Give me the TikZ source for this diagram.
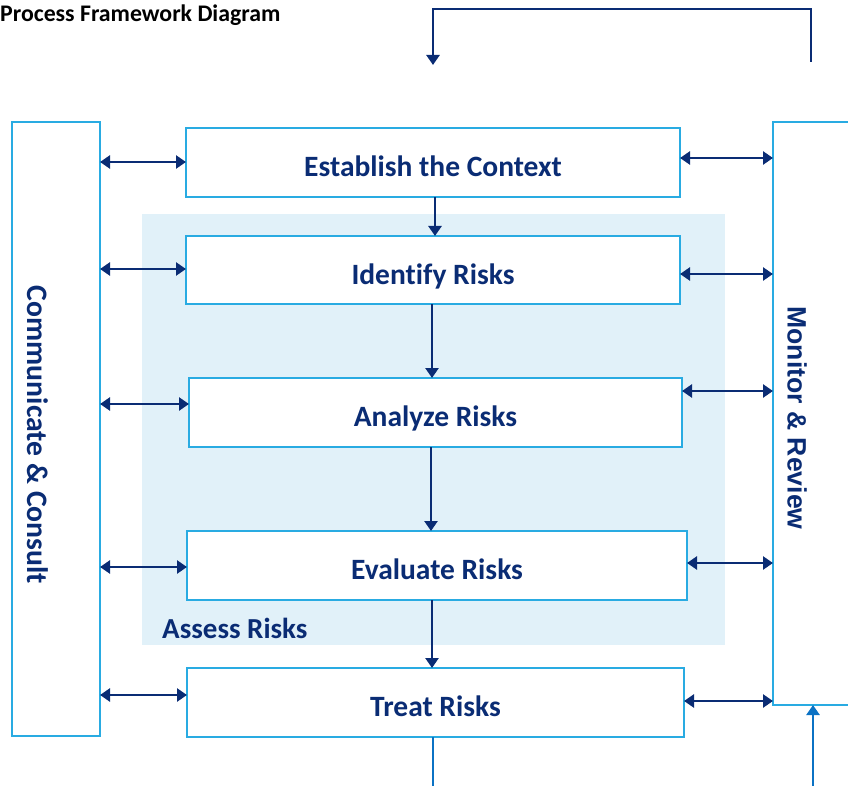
\documentclass[tikz,border=0pt]{standalone}
\usepackage{fontspec}
\setmainfont{Carlito}[Ligatures=NoCommon]
\newfontfamily\arialfont{Liberation Sans}
\usetikzlibrary{arrows.meta}
\definecolor{navy}{HTML}{0A2C74}
\definecolor{bord}{HTML}{29ABE2}
\definecolor{shade}{HTML}{E1F1F9}
\definecolor{midblue}{HTML}{0B72C4}
\tikzset{
  stepbox/.style={draw=bord, line width=1.9pt, fill=white, inner sep=0pt, outer sep=0pt,
    font=\fontsize{29.5}{32}\selectfont\bfseries, text=navy, text height=28pt, text depth=0pt},
  sidebox/.style={draw=bord, line width=1.9pt, fill=white, inner sep=0pt, outer sep=0pt},
  dbl/.style={draw=navy, line width=2.5pt, {Triangle[length=10pt,width=13pt]}-{Triangle[length=10pt,width=13pt]}},
  down/.style={draw=navy, line width=2.5pt, -{Triangle[length=10pt,width=13pt]}},
  feed/.style={draw=midblue, line width=2.5pt},
}
\begin{document}
\begin{tikzpicture}[x=1pt,y=-1pt]
\useasboundingbox (0,0) rectangle (848,786);
% shaded assess region
\node[fill=shade, minimum width=583pt, minimum height=431pt, inner sep=0pt, outer sep=0pt] (assess) at (433.5,429.5) {};
\node[anchor=west, font=\fontsize{29}{32}\selectfont\bfseries, text=navy, inner sep=0pt] (assesslbl) at (162,628) {Assess Risks};
% title
\node[anchor=west, font=\fontsize{23.8}{25}\selectfont\bfseries, inner sep=0pt] (title) at (0,15) {Process Framework Diagram};
% side boxes
\node[sidebox, minimum width=88pt, minimum height=614pt] (comm) at (56,429) {};
\node[rotate=-90, font=\fontsize{29.7}{32}\selectfont\bfseries, text=navy, inner sep=0pt] (commlbl) at (38,435) {Communicate \& Consult};
\begin{scope}
\clip (0,0) rectangle (848,786);
\node[sidebox, minimum width=85pt, minimum height=583pt] (mr) at (815.5,413.5) {};
\end{scope}
\node[rotate=-90, font=\arialfont\bfseries\fontsize{26.6}{29}\selectfont, text=navy, inner sep=0pt] (mrlbl) at (797,418) {Monitor \& Review};
% step boxes
\node[stepbox, minimum width=494pt, minimum height=69pt] (est) at (433,162.5) {Establish the Context};
\node[stepbox, minimum width=494pt, minimum height=68pt] (ide) at (433,270) {Identify Risks};
\node[stepbox, minimum width=493pt, minimum height=69pt] (ana) at (435.5,412.5) {Analyze Risks};
\node[stepbox, minimum width=500pt, minimum height=69pt] (eva) at (437,565.5) {Evaluate Risks};
\node[stepbox, minimum width=497pt, minimum height=69pt] (tre) at (435.5,702.5) {Treat Risks};
% vertical arrows
\draw[down] ([xshift=2pt]est.south) -- ([xshift=2pt]est.south |- ide.north);
\draw[down] ([xshift=-1pt]ide.south) -- ([xshift=-1pt]ide.south |- ana.north);
\draw[down] ([xshift=-4.5pt]ana.south) -- ([xshift=-4.5pt]ana.south |- eva.north);
\draw[down] ([xshift=-5pt]eva.south) -- ([xshift=-5pt]eva.south |- tre.north);
% left double arrows
\draw[dbl] (comm.east |- 0,162) -- (est.west |- 0,162);
\draw[dbl] (comm.east |- 0,269) -- (ide.west |- 0,269);
\draw[dbl] (comm.east |- 0,404) -- (ana.west |- 0,404);
\draw[dbl] (comm.east |- 0,567) -- (eva.west |- 0,567);
\draw[dbl] (comm.east |- 0,695) -- (tre.west |- 0,695);
% right double arrows
\draw[dbl] (est.east |- 0,158) -- (mr.west |- 0,158);
\draw[dbl] (ide.east |- 0,274) -- (mr.west |- 0,274);
\draw[dbl] (ana.east |- 0,391) -- (mr.west |- 0,391);
\draw[dbl] (eva.east |- 0,563) -- (mr.west |- 0,563);
\draw[dbl] (tre.east |- 0,701) -- (mr.west |- 0,701);
% top feedback
\coordinate (fbs) at (811,62);
\coordinate (fbe) at (433,65);
\draw[down] (fbs) -- (811,9) -- (433,9) -- (fbe);
% bottom lines
\coordinate (bl) at (433,786);
\coordinate (br) at (813,786);
\draw[feed] ([xshift=-2.5pt]tre.south) -- (bl);
\draw[feed, -{Triangle[length=10pt,width=13pt]}] (br) -- (br |- mr.south);
\end{tikzpicture}
\end{document}
